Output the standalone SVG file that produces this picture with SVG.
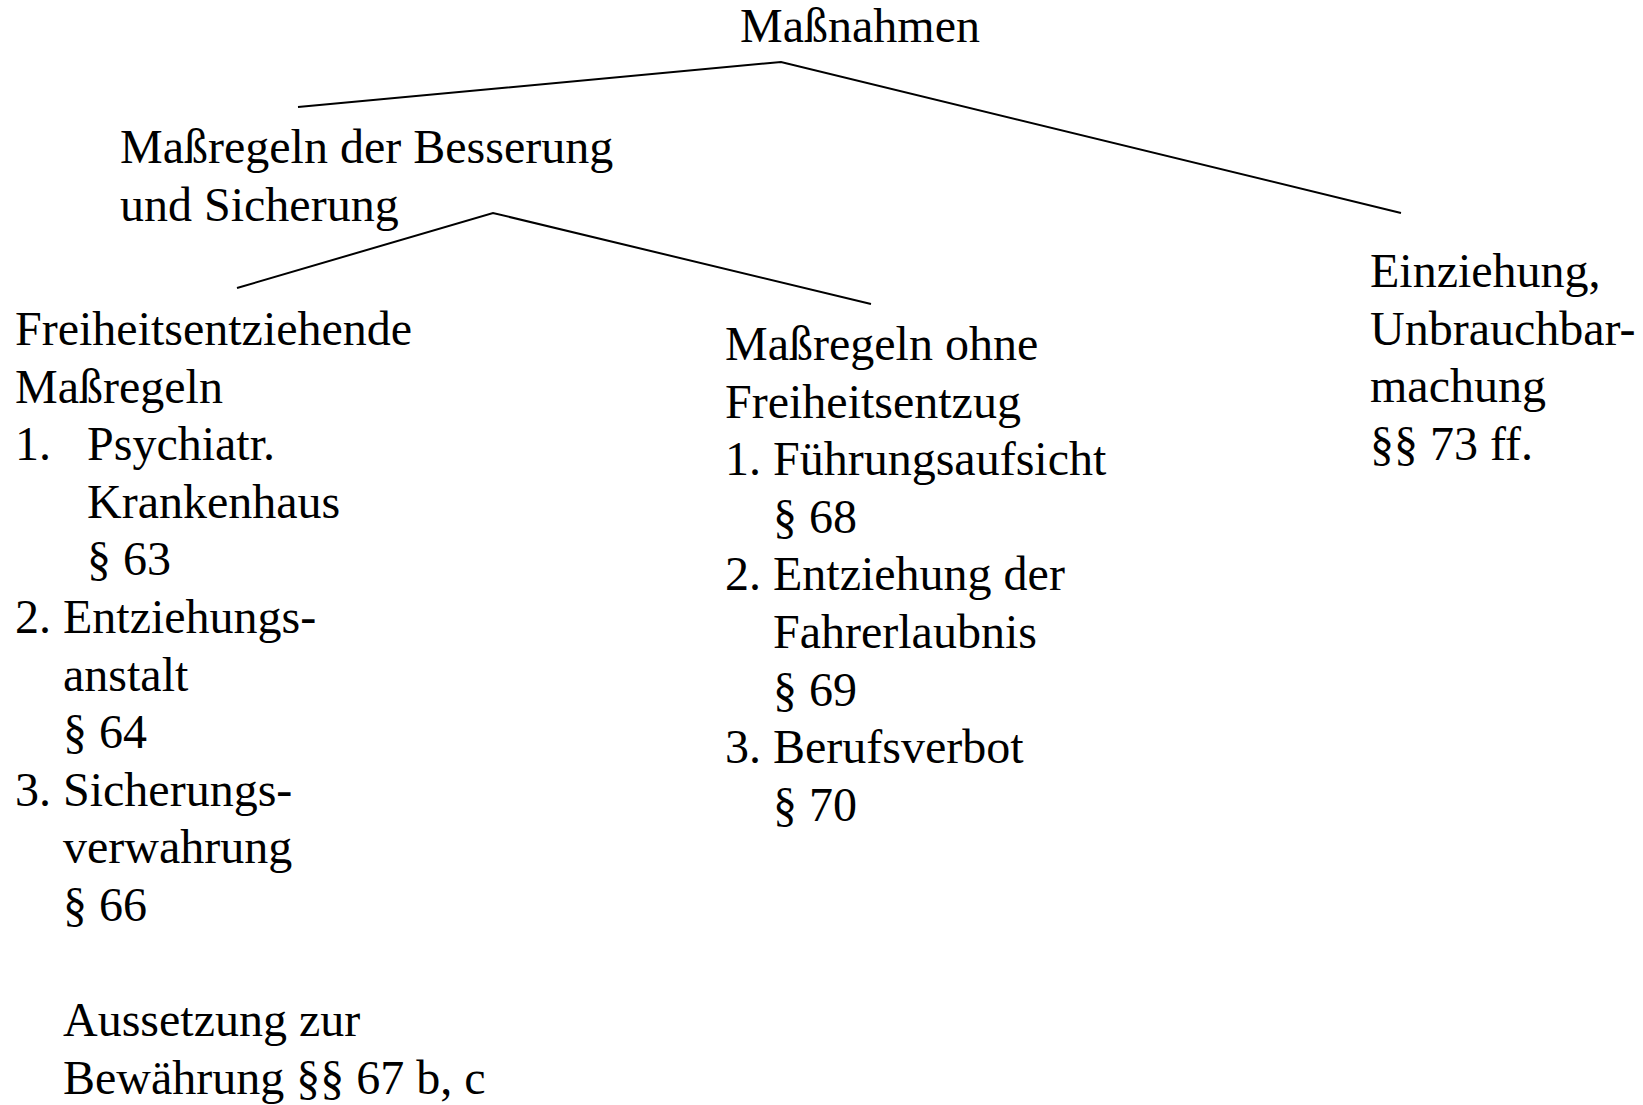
<svg xmlns="http://www.w3.org/2000/svg" width="1643" height="1105" viewBox="0 0 1643 1105">
<style>
text{font-family:"Liberation Serif","Times New Roman",serif;font-size:48px;fill:#000}
.c{stroke:#000;stroke-width:2;fill:none}
</style>
<rect width="1643" height="1105" fill="#fff"/>
<g id="connectors">
<polyline class="c" points="298,107 781,62 1401,213"/>
<polyline class="c" points="237,288 493,213 871,304"/>
</g>
<g id="root"><text x="740" y="42">Maßnahmen</text></g>
<g id="besserung">
<text x="120" y="163">Maßregeln der Besserung</text>
<text x="120" y="220.6">und Sicherung</text>
</g>
<g id="einziehung">
<text x="1370" y="287">Einziehung,</text>
<text x="1370" y="344.6">Unbrauchbar-</text>
<text x="1370" y="402.2">machung</text>
<text x="1370" y="459.8">§§ 73 ff.</text>
</g>
<g id="freiheitsentziehend">
<text x="15" y="345">Freiheitsentziehende</text>
<text x="15" y="402.6">Maßregeln</text>
<text x="15" y="460.2">1.</text><text x="87" y="460.2">Psychiatr.</text>
<text x="87" y="517.8">Krankenhaus</text>
<text x="87" y="575.4">§ 63</text>
<text x="15" y="633">2. Entziehungs-</text>
<text x="63" y="690.6">anstalt</text>
<text x="63" y="748.2">§ 64</text>
<text x="15" y="805.8">3. Sicherungs-</text>
<text x="63" y="863.4">verwahrung</text>
<text x="63" y="921">§ 66</text>
<text x="63" y="1036.2">Aussetzung zur</text>
<text x="63" y="1093.8">Bewährung §§ 67 b, c</text>
</g>
<g id="ohne">
<text x="725" y="360">Maßregeln ohne</text>
<text x="725" y="417.6">Freiheitsentzug</text>
<text x="725" y="475.2">1. Führungsaufsicht</text>
<text x="773" y="532.8">§ 68</text>
<text x="725" y="590.4">2. Entziehung der</text>
<text x="773" y="648">Fahrerlaubnis</text>
<text x="773" y="705.6">§ 69</text>
<text x="725" y="763.2">3. Berufsverbot</text>
<text x="773" y="820.8">§ 70</text>
</g>
</svg>
